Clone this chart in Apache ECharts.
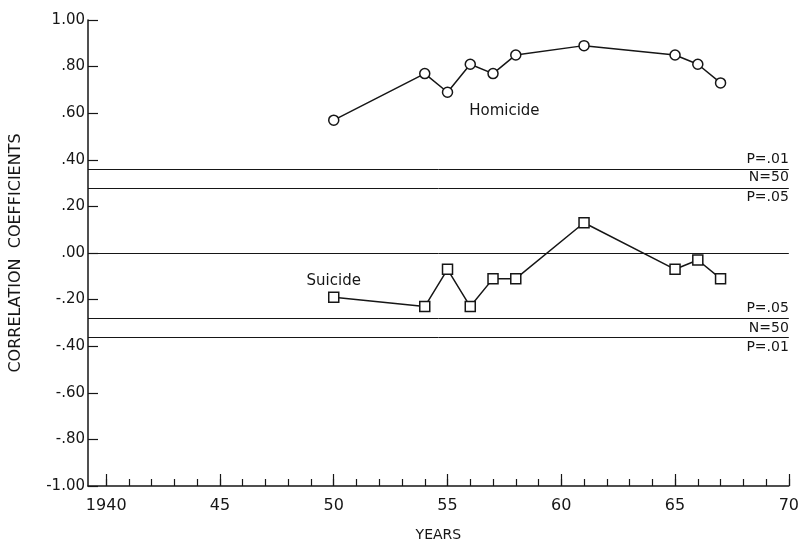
<!DOCTYPE html>
<html>
<head>
<meta charset="utf-8">
<script src="https://cdn.jsdelivr.net/npm/echarts@6/dist/echarts.min.js"></script>
<style>html,body{margin:0;padding:0;background:#fff}#c{width:802px;height:547px}</style>
</head>
<body>
<div id="c"></div>
<script>
const years = [1950, 1954, 1955, 1956, 1957, 1958, 1961, 1965, 1966, 1967];
const homicide = [0.57, 0.77, 0.69, 0.81, 0.77, 0.85, 0.89, 0.85, 0.81, 0.73];
const suicide = [-0.19, -0.23, -0.07, -0.23, -0.11, -0.11, 0.13, -0.07, -0.03, -0.11];
const yearTicks = [1940,1941,1942,1943,1944,1945,1946,1947,1948,1949,1950,1951,1952,1953,1954,1955,1956,1957,1958,1959,1960,1961,1962,1963,1964,1965,1966,1967,1968,1969,1970];
const yearLabels = [1940, 1945, 1950, 1955, 1960, 1965, 1970];
const sigLines = [
  {value: 0.36, text: 'P=.01', pos: 'insideEndTop'},
  {value: 0.28, text: 'N=50', pos: 'insideEndTop'},
  {value: 0.28, text: 'P=.05', pos: 'insideEndBottom', hidden: true},
  {value: 0.00, text: '', pos: 'insideEndTop'},
  {value: -0.28, text: 'P=.05', pos: 'insideEndTop'},
  {value: -0.28, text: 'N=50', pos: 'insideEndBottom', hidden: true},
  {value: -0.36, text: 'P=.01', pos: 'insideEndBottom'}
];
const seriesLabels = [
  {text: 'Homicide', at: [1957.5, 0.61]},
  {text: 'Suicide', at: [1950.0, -0.12]}
];

const ink = '#161616';
const font = 'DejaVu Sans';
const chart = echarts.init(document.getElementById('c'), null, {renderer: 'canvas'});

const option = {
  backgroundColor: '#ffffff',
  animation: false,
  grid: {left: 85, right: 13, top: 20, bottom: 55},
  xAxis: [
    {
      type: 'value', min: 1939.2, max: 1970, position: 'bottom',
      axisLine: {show: true, onZero: false, lineStyle: {color: ink, width: 1.5}},
      axisTick: {show: true, inside: true, length: 7, customValues: yearTicks, lineStyle: {color: ink, width: 1.2}},
      axisLabel: {show: false},
      splitLine: {show: false},
      name: 'YEARS', nameLocation: 'middle', nameGap: 42,
      nameTextStyle: {fontFamily: font, fontSize: 14, color: ink}
    },
    {
      type: 'value', min: 1939.2, max: 1970, position: 'bottom',
      axisLine: {show: false, onZero: false},
      axisTick: {show: true, inside: true, length: 12, customValues: yearLabels, lineStyle: {color: ink, width: 1.2}},
      axisLabel: {show: true, customValues: yearLabels, margin: 12, fontFamily: font, fontSize: 16, color: ink,
        formatter: v => (Math.round(v) === 1940 ? '1940' : String(Math.round(v) % 100))},
      splitLine: {show: false}
    }
  ],
  yAxis: {
    type: 'value', min: -1, max: 1, interval: 0.2,
    axisLine: {show: true, onZero: false, lineStyle: {color: ink, width: 1.5}},
    axisTick: {show: true, inside: true, length: 10, lineStyle: {color: ink, width: 1.2}},
    axisLabel: {margin: 3, fontFamily: font, fontSize: 15, color: ink,
      formatter: v => {
        const r = Math.round(v * 100) / 100;
        const s = Math.abs(r).toFixed(2).replace(/^0/, '');
        return (r < 0 ? '-' : '') + s;
      }},
    splitLine: {show: false},
    name: 'CORRELATION  COEFFICIENTS', nameLocation: 'middle', nameGap: 64,
    nameTextStyle: {fontFamily: font, fontSize: 16, color: ink}
  },
  series: [
    {
      name: 'Homicide', type: 'line', xAxisIndex: 0,
      data: years.map((y, i) => [y, homicide[i]]),
      symbol: 'circle', symbolSize: 10, showAllSymbol: true,
      lineStyle: {color: ink, width: 1.5},
      itemStyle: {color: '#fff', borderColor: ink, borderWidth: 1.5},
      z: 5
    },
    {
      name: 'Suicide', type: 'line', xAxisIndex: 0,
      data: years.map((y, i) => [y, suicide[i]]),
      symbol: 'rect', symbolSize: 10, showAllSymbol: true,
      lineStyle: {color: ink, width: 1.5},
      itemStyle: {color: '#fff', borderColor: ink, borderWidth: 1.5},
      z: 5,
      markLine: {
        silent: true, symbol: ['none', 'none'], animation: false,
        data: sigLines.map(l => ({
          yAxis: l.value,
          lineStyle: {color: l.hidden ? 'rgba(0,0,0,0)' : ink, width: 1, type: 'solid'},
          label: {show: l.text !== '', formatter: l.text, position: l.pos, distance: [0, 3],
            fontFamily: font, fontSize: 14, color: ink, opacity: 1}
        }))
      }
    }
  ]
};
chart.setOption(option);

chart.setOption({
  graphic: seriesLabels.map(s => {
    const p = chart.convertToPixel({xAxisIndex: 0, yAxisIndex: 0}, s.at);
    return {type: 'text', x: p[0], y: p[1], style: {text: s.text, fontFamily: font, fontSize: 15, fill: ink, align: 'center', verticalAlign: 'middle'}};
  })
});
</script>
</body>
</html>
